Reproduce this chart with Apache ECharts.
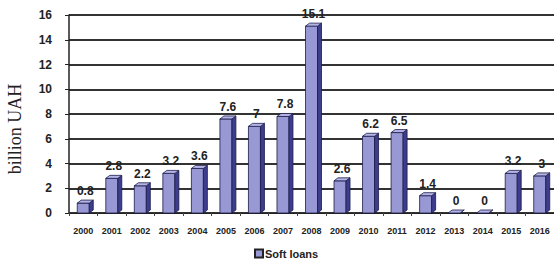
<!DOCTYPE html>
<html>
<head>
<meta charset="utf-8">
<script src="https://cdn.jsdelivr.net/npm/echarts@6/dist/echarts.min.js"></script>
<style>
  html, body { margin: 0; padding: 0; background: #fff; }
  #chart { width: 554px; height: 262px; }
</style>
</head>
<body>
<div id="chart"></div>
<script>
var years = ['2000', '2001', '2002', '2003', '2004', '2005', '2006', '2007', '2008',
             '2009', '2010', '2011', '2012', '2013', '2014', '2015', '2016'];
var softLoans = [0.8, 2.8, 2.2, 3.2, 3.6, 7.6, 7, 7.8, 15.1, 2.6, 6.2, 6.5, 1.4, 0, 0, 3.2, 3];
var yTicks = [0, 2, 4, 6, 8, 10, 12, 14, 16];

var dom = document.getElementById('chart');
var myChart = echarts.init(dom, null, { renderer: 'svg' });

// fake 3d column: front face, right side, top
function renderBar(params, api) {
    var idx = api.value(0);
    var v = api.value(1);
    var top = api.coord([idx, v]);
    var base = api.coord([idx, 0]);
    var w = 12, dx = 4, dy = 3;
    var x0 = top[0] - w / 2, x1 = x0 + w;
    var yt = top[1], yb = base[1];
    var edge = { stroke: '#1c1c4a', lineWidth: 0.8 };
    return {
        type: 'group',
        children: [
            {
                type: 'rect',
                shape: { x: x0, y: yt, width: w, height: yb - yt },
                style: Object.assign({ fill: '#9898d4' }, edge)
            },
            {
                type: 'polygon',
                shape: { points: [[x1, yt], [x1 + dx, yt - dy], [x1 + dx, yb - dy], [x1, yb]] },
                style: Object.assign({ fill: '#3d3d8e' }, edge)
            },
            {
                type: 'polygon',
                shape: { points: [[x0, yt], [x0 + dx, yt - dy], [x1 + dx, yt - dy], [x1, yt]] },
                style: Object.assign({ fill: '#b4b4e6' }, edge)
            }
        ]
    };
}

var barData = softLoans.map(function (v, i) { return [i, v]; });

option = {
    animation: false,
    textStyle: { fontFamily: 'Liberation Sans, Arial, sans-serif' },
    grid: {
        left: 69,
        right: 0,
        top: 15,
        bottom: 49,
        outerBoundsMode: 'none'
    },
    legend: {
        data: ['Soft loans'],
        left: 254,
        top: 248,
        padding: 0,
        icon: 'rect',
        itemWidth: 8,
        itemHeight: 8,
        itemGap: 4,
        textStyle: { color: '#222', fontWeight: 'bold', fontSize: 11, padding: [0, 0, 0, -3] }
    },
    xAxis: {
        type: 'category',
        data: years,
        axisLine: { lineStyle: { color: '#222', width: 1 } },
        axisTick: { show: true, length: 3, lineStyle: { color: '#444' } },
        axisLabel: { color: '#222', fontWeight: 'bold', fontSize: 9, margin: 13, interval: 0 },
        splitLine: { show: false }
    },
    yAxis: {
        type: 'value',
        min: yTicks[0],
        max: yTicks[yTicks.length - 1],
        interval: 2,
        name: 'billion UAH',
        nameLocation: 'middle',
        nameGap: 45,
        nameTextStyle: {
            fontFamily: 'Liberation Serif, Times New Roman, serif',
            fontSize: 18,
            color: '#222',
            padding: [0, 30, 0, 0]
        },
        axisLine: { show: true, lineStyle: { color: '#222', width: 1.5 } },
        axisTick: { show: true, length: 4, lineStyle: { color: '#222' } },
        axisLabel: { color: '#222', fontWeight: 'bold', fontSize: 12, margin: 17 },
        splitLine: { show: true, lineStyle: { color: '#333', width: 2 } }
    },
    series: [
        {
            name: 'Soft loans',
            type: 'custom',
            renderItem: renderBar,
            itemStyle: { color: '#9898d4', borderColor: '#222', borderWidth: 1 },
            encode: { x: 0, y: 1 },
            data: barData,
            z: 3
        },
        {
            name: 'labels',
            type: 'bar',
            barWidth: 12,
            silent: true,
            itemStyle: { color: 'transparent' },
            label: {
                show: true,
                position: 'top',
                distance: 6,
                offset: [2, 0],
                color: '#222',
                fontWeight: 'bold',
                fontSize: 12
            },
            data: softLoans,
            z: 4
        }
    ]
};

if (option && typeof option === "object") {
    myChart.setOption(option, true);
}
</script>
</body>
</html>
